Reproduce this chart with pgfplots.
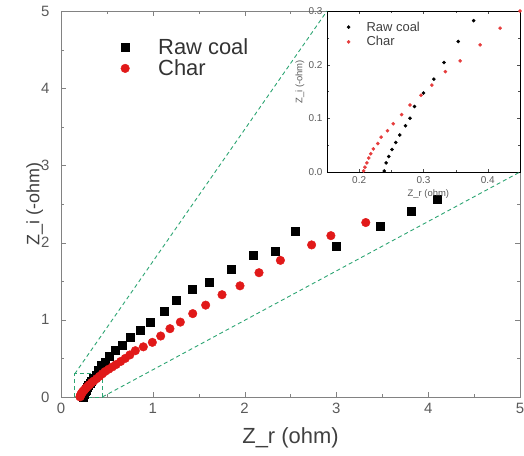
\documentclass[border=0pt]{standalone}
\usepackage{fontspec}
\setmainfont{Liberation Sans}
\usepackage{pgfplots}
\usepackage{pgfplotstable}
\pgfplotsset{compat=1.18}

\definecolor{tickgray}{RGB}{90,90,90}
\definecolor{framegray}{RGB}{130,130,130}
\definecolor{zoomgreen}{RGB}{45,165,115}
\definecolor{charred}{RGB}{225,25,25}

% Raw coal
\pgfplotstableread{
x y
0.239 0.002
0.242 0.017
0.246 0.029
0.251 0.042
0.257 0.055
0.263 0.069
0.272 0.086
0.279 0.100
0.286 0.122
0.300 0.147
0.316 0.173
0.332 0.204
0.354 0.243
0.378 0.282
0.400 0.350
0.435 0.410
0.480 0.457
0.530 0.530
0.590 0.610
0.672 0.674
0.755 0.773
0.860 0.868
0.973 0.975
1.120 1.110
1.260 1.256
1.430 1.390
1.615 1.490
1.850 1.660
2.090 1.840
2.330 1.890
2.550 2.150
3.000 1.950
3.480 2.215
3.810 2.410
4.100 2.565
}\rawcoal

% Char
\pgfplotstableread{
x y
0.207 0.002
0.209 0.009
0.212 0.017
0.215 0.026
0.218 0.034
0.222 0.043
0.229 0.053
0.234 0.065
0.244 0.077
0.253 0.090
0.266 0.107
0.279 0.125
0.296 0.143
0.313 0.162
0.334 0.187
0.357 0.207
0.388 0.237
0.419 0.268
0.450 0.300
0.480 0.330
0.520 0.360
0.560 0.390
0.600 0.420
0.650 0.460
0.700 0.500
0.750 0.545
0.810 0.600
0.897 0.650
0.995 0.708
1.086 0.790
1.187 0.885
1.300 0.970
1.435 1.080
1.576 1.190
1.754 1.325
1.950 1.440
2.157 1.610
2.390 1.770
2.730 1.970
2.940 2.090
3.320 2.260
}\charp

\begin{document}
\begin{tikzpicture}
\begin{axis}[
    name=main,
    at={(0,0)}, anchor=south west,
    scale only axis,
    width=459bp, height=386bp,
    xmin=0, xmax=5, ymin=0, ymax=5,
    xtick={0,1,2,3,4,5}, ytick={0,1,2,3,4,5},
    minor tick num=1,
    tick align=inside,
    major tick length=5bp, minor tick length=3bp,
    axis line style={framegray},
    tick style={framegray},
    /pgf/number format/assume math mode=true,
    ticklabel style={font=\fontsize{15}{15}\selectfont, text=tickgray},
    xticklabel style={yshift=-3bp},
    yticklabel style={xshift=-8bp},
    xlabel={Z\_r (ohm)},
    ylabel={Z\_i (-ohm)},
    xlabel style={font=\fontsize{22}{22}\selectfont, text=black!75,
        at={(axis description cs:0.5,-0.106)}, anchor=center},
    ylabel style={font=\fontsize{18}{18}\selectfont, text=black!75,
        at={(axis description cs:-0.057,0.5)}, anchor=center},
    legend style={at={(axis description cs:0.122,0.94)}, anchor=north west,
        draw=none, fill=none, font=\fontsize{22}{26}\selectfont, text=black!80},
    legend cell align=left,
    legend image code/.code={%
        \path[draw=none,fill=none] (0bp,0bp) -- (36bp,0bp);
        \draw[#1] plot coordinates {(5bp,0bp)};},
]
\draw[zoomgreen, dashed, line width=0.9bp, dash pattern=on 4bp off 3bp]
    (axis cs:0.15,0) rectangle (axis cs:0.45,0.3);
\coordinate (zA) at (axis cs:0.15,0.3);
\coordinate (zB) at (axis cs:0.45,0);
\addplot[only marks, mark=square*, mark size=4bp, black] table {\rawcoal};
\addplot[only marks, mark=*, mark size=4.3bp, charred, mark options={draw=charred, fill=charred}] table {\charp};
\legend{Raw coal, Char}
\end{axis}

\begin{axis}[
    name=inset,
    at={(main.north east)}, anchor=north east,
    scale only axis,
    width=193bp, height=161bp,
    xmin=0.15, xmax=0.45, ymin=0, ymax=0.3,
    xtick={0.2,0.3,0.4}, ytick={0,0.1,0.2,0.3},
    minor tick num=1,
    tick align=inside,
    major tick length=3bp, minor tick length=2bp,
    axis background/.style={fill=white},
    axis line style={black, line width=0.9bp},
    tick style={black!70},
    /pgf/number format/assume math mode=true,
    /pgf/number format/.cd, fixed, fixed zerofill, precision=1, /pgfplots/.cd,
    ticklabel style={font=\fontsize{10}{10}\selectfont, text=tickgray},
    xticklabel style={yshift=-1bp},
    yticklabel style={xshift=-1bp},
    xlabel={Z\_r (ohm)},
    ylabel={Z\_i (-ohm)},
    xlabel style={font=\fontsize{9.5}{9.5}\selectfont, text=tickgray,
        at={(axis description cs:0.525,-0.137)}, anchor=center},
    ylabel style={font=\fontsize{9.5}{9.5}\selectfont, text=tickgray,
        at={(axis description cs:-0.14,0.56)}, anchor=center},
    legend style={at={(axis description cs:0.085,0.96)}, anchor=north west,
        draw=none, fill=none, font=\fontsize{13}{16}\selectfont, text=black!75},
    legend cell align=left,
    legend image code/.code={%
        \path[draw=none,fill=none] (0bp,0bp) -- (18bp,0bp);
        \draw[#1] plot coordinates {(2bp,0bp)};},
]
\addplot[only marks, mark=*, mark size=1.6bp, black] table {\rawcoal};
\addplot[only marks, mark=*, mark size=1.6bp, charred!85, mark options={draw=charred!85, fill=charred!85}] table {\charp};
\legend{Raw coal, Char}
\end{axis}

\draw[zoomgreen, line width=0.9bp, dash pattern=on 4bp off 3bp]
    (zA) -- (inset.north west);
\draw[zoomgreen, line width=0.9bp, dash pattern=on 4bp off 3bp]
    (zB) -- (inset.south east);

\pgfresetboundingbox
\useasboundingbox ([xshift=-61bp,yshift=-59bp]main.south west)
    rectangle ([xshift=4bp,yshift=11bp]main.north east);
\end{tikzpicture}
\end{document}
